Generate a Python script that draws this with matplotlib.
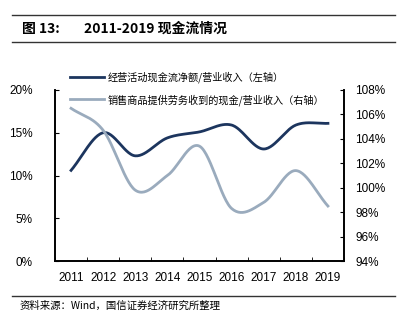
import numpy as np
import matplotlib.pyplot as plt
from matplotlib.lines import Line2D

plt.rcParams['font.family'] = ['Liberation Sans', 'Noto Sans CJK SC', 'DejaVu Sans']

years = ['2011', '2012', '2013', '2014', '2015', '2016', '2017', '2018', '2019']
# 经营活动现金流净额/营业收入 (%), left axis
ocf_ratio = [10.6, 15.0, 12.3, 14.4, 15.1, 15.9, 13.1, 15.9, 16.1]
# 销售商品提供劳务收到的现金/营业收入 (%), right axis
cash_ratio = [106.5, 104.7, 99.8, 101.0, 103.4, 98.3, 98.8, 101.4, 98.5]

dark = '#1c355e'
light = '#9aabbd'


def smooth(x, y, n=30):
    # Excel-like smoothed line (cardinal spline through the points)
    x = np.asarray(x, float)
    y = np.asarray(y, float)
    px = np.concatenate([[2 * x[0] - x[1]], x, [2 * x[-1] - x[-2]]])
    py = np.concatenate([[2 * y[0] - y[1]], y, [2 * y[-1] - y[-2]]])
    xs, ys = [], []
    t = np.linspace(0, 1, n)
    for i in range(1, len(px) - 2):
        p0, p1, p2, p3 = [np.array([px[j], py[j]]) for j in range(i - 1, i + 3)]
        m1 = (p2 - p0) / 2
        m2 = (p3 - p1) / 2
        h00 = 2 * t**3 - 3 * t**2 + 1
        h10 = t**3 - 2 * t**2 + t
        h01 = -2 * t**3 + 3 * t**2
        h11 = t**3 - t**2
        pts = (np.outer(h00, p1) + np.outer(h10, m1) + np.outer(h01, p2) + np.outer(h11, m2))
        xs.extend(pts[:, 0])
        ys.extend(pts[:, 1])
    return np.array(xs), np.array(ys)


fig = plt.figure(figsize=(4.09, 3.24), dpi=100)
ax = fig.add_axes([55 / 409, 1 - 261 / 324, 289 / 409, 171 / 324])
ax2 = ax.twinx()

x = np.arange(len(years))
sx, sy = smooth(x, ocf_ratio)
ax.plot(sx, sy, color=dark, lw=2)
sx2, sy2 = smooth(x, cash_ratio)
ax2.plot(sx2, sy2, color=light, lw=2)

ax.set_xlim(-0.5, len(years) - 0.5)
ax.set_ylim(0, 20)
ax.set_yticks([0, 5, 10, 15, 20])
ax.set_yticklabels([f'{v}%' for v in [0, 5, 10, 15, 20]])
ax2.set_ylim(94, 108)
ax2.set_yticks(np.arange(94, 109, 2))
ax2.set_yticklabels([f'{v}%' for v in range(94, 109, 2)])

ax.set_xticks(x)
ax.set_xticklabels(years)
ax.set_xticks(np.arange(-0.5, len(years), 1), minor=True)
ax.tick_params(axis='x', which='major', length=0, pad=8, labelsize=8.5)
ax.tick_params(axis='x', which='minor', direction='in', length=3)
ax.tick_params(axis='y', direction='in', length=3, labelsize=8.5, pad=16)
ax2.tick_params(axis='y', direction='in', length=3, labelsize=8.5, pad=8)

for a in (ax, ax2):
    a.spines['top'].set_visible(False)
    for s in a.spines.values():
        s.set_linewidth(1.2)

handles = [Line2D([], [], color=dark, lw=2), Line2D([], [], color=light, lw=2)]
labels = ['经营活动现金流净额/营业收入（左轴）', '销售商品提供劳务收到的现金/营业收入（右轴）']
leg = fig.legend(handles, labels, loc='upper left', bbox_to_anchor=(66 / 409, 1 - 67 / 324),
                 frameon=False, fontsize=7.3, handlelength=3.3, handletextpad=0.4,
                 labelspacing=1.1, borderaxespad=0)
for t in leg.get_texts():
    t.set_family(['Noto Sans CJK SC', 'DejaVu Sans'])

# header and footer
fig.add_artist(Line2D([12 / 409, 395 / 409], [1 - 15 / 324] * 2, color='#333333', lw=1))
fig.add_artist(Line2D([12 / 409, 395 / 409], [1 - 42 / 324] * 2, color='#333333', lw=1))
fig.text(22 / 409, 1 - 29 / 324, '图 13:', fontsize=10, fontweight='bold', va='center',
         family=['Noto Sans CJK SC', 'DejaVu Sans'])
fig.text(84 / 409, 1 - 29 / 324, '2011-2019 现金流情况', fontsize=10, fontweight='bold', va='center',
         family=['Noto Sans CJK SC', 'DejaVu Sans'])
fig.add_artist(Line2D([12 / 409, 395 / 409], [1 - 296 / 324] * 2, color='#333333', lw=1))
fig.text(20 / 409, 1 - 306 / 324, '资料来源：Wind，国信证券经济研究所整理', fontsize=7.5, va='center',
         family=['Noto Sans CJK SC', 'DejaVu Sans'])

fig.savefig('out.png', dpi=100)
